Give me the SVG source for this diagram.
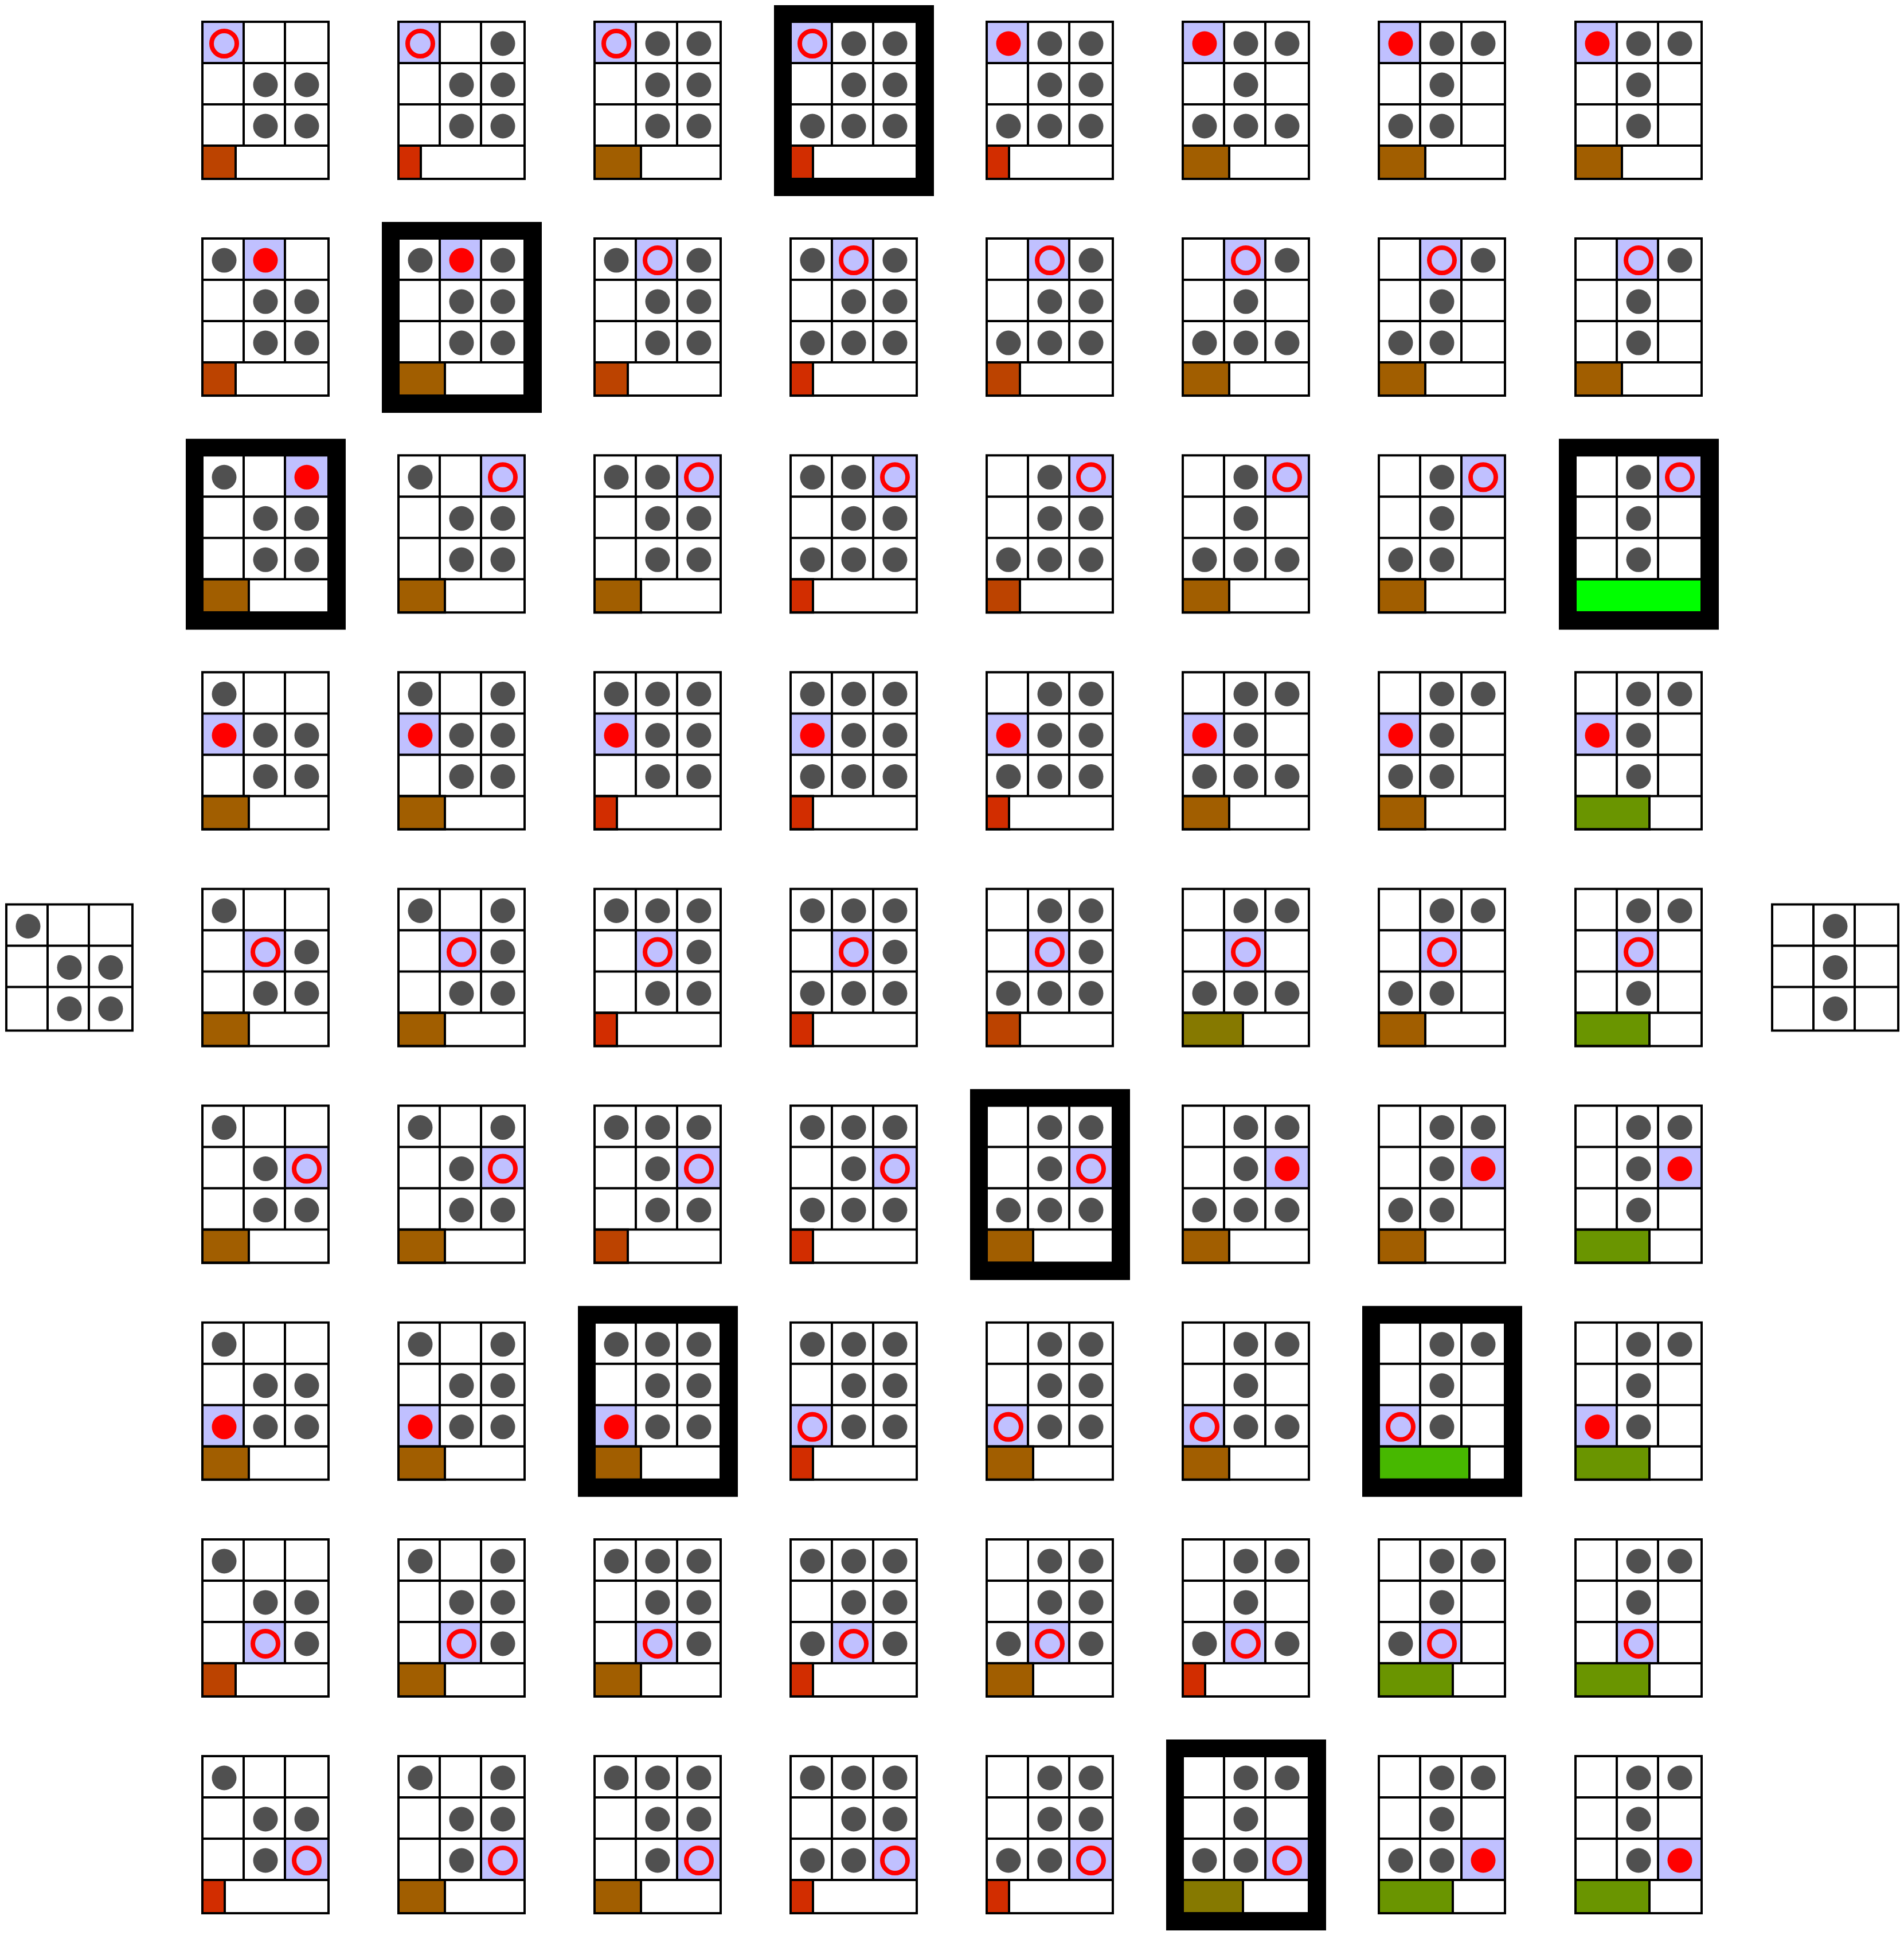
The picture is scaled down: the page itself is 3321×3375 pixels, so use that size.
<svg xmlns="http://www.w3.org/2000/svg" width="3321" height="3375" viewBox="0 0 3321 3375">
<style>
.bg{fill:#fff}
.hl{fill:#c0c0ff}
.ln{fill:none;stroke:#000;stroke-width:4}
.bar{stroke:#000;stroke-width:4}
.p{fill:#505050}
.o{fill:none;stroke:#f00;stroke-width:8}
.f{fill:#f00}
.bd{fill:#000}
.ca{fill:#d22d00}.cb{fill:#bc4300}.cc{fill:#a15e00}.cd{fill:#867900}.ce{fill:#6a9500}.cf{fill:#47b800}.cg{fill:#00ff00}
</style>
<defs>
<rect id="bd" class="bd" x="-29" y="-29" width="279" height="333"/>
<rect id="bg" class="bg" width="220" height="274"/>
<rect id="sbg" class="bg" width="220" height="220"/>
<path id="tf" class="ln" d="M0,0H220V274H0Z M72,0V216 M144,0V216 M0,72H220 M0,144H220 M0,216H220"/>
<path id="sf" class="ln" d="M0,0H220V220H0Z M72,0V220 M144,0V220 M0,72H220 M0,144H220"/>
<rect id="h00" class="hl" x="0" y="0" width="72" height="72"/>
<rect id="h01" class="hl" x="72" y="0" width="72" height="72"/>
<rect id="h02" class="hl" x="144" y="0" width="76" height="72"/>
<rect id="h10" class="hl" x="0" y="72" width="72" height="72"/>
<rect id="h11" class="hl" x="72" y="72" width="72" height="72"/>
<rect id="h12" class="hl" x="144" y="72" width="76" height="72"/>
<rect id="h20" class="hl" x="0" y="144" width="72" height="72"/>
<rect id="h21" class="hl" x="72" y="144" width="72" height="72"/>
<rect id="h22" class="hl" x="144" y="144" width="76" height="72"/>
<rect id="ba" class="bar ca" y="216" width="39" height="58"/>
<rect id="bb" class="bar cb" y="216" width="58" height="58"/>
<rect id="bc" class="bar cc" y="216" width="81" height="58"/>
<rect id="bdd" class="bar cd" y="216" width="105" height="58"/>
<rect id="be" class="bar ce" y="216" width="129" height="58"/>
<rect id="bf" class="bar cf" y="216" width="158" height="58"/>
<rect id="bgg" class="bar cg" y="216" width="220" height="58"/>
<circle id="p00" class="p" cx="38" cy="38" r="21.5"/>
<circle id="p01" class="p" cx="110" cy="38" r="21.5"/>
<circle id="p02" class="p" cx="182" cy="38" r="21.5"/>
<circle id="p10" class="p" cx="38" cy="110" r="21.5"/>
<circle id="p11" class="p" cx="110" cy="110" r="21.5"/>
<circle id="p12" class="p" cx="182" cy="110" r="21.5"/>
<circle id="p20" class="p" cx="38" cy="182" r="21.5"/>
<circle id="p21" class="p" cx="110" cy="182" r="21.5"/>
<circle id="p22" class="p" cx="182" cy="182" r="21.5"/>
<circle id="o00" class="o" cx="38" cy="38" r="22"/>
<circle id="o01" class="o" cx="110" cy="38" r="22"/>
<circle id="o02" class="o" cx="182" cy="38" r="22"/>
<circle id="o11" class="o" cx="110" cy="110" r="22"/>
<circle id="o12" class="o" cx="182" cy="110" r="22"/>
<circle id="o20" class="o" cx="38" cy="182" r="22"/>
<circle id="o21" class="o" cx="110" cy="182" r="22"/>
<circle id="o22" class="o" cx="182" cy="182" r="22"/>
<circle id="f00" class="f" cx="38" cy="38" r="21.5"/>
<circle id="f01" class="f" cx="110" cy="38" r="21.5"/>
<circle id="f02" class="f" cx="182" cy="38" r="21.5"/>
<circle id="f10" class="f" cx="38" cy="110" r="21.5"/>
<circle id="f12" class="f" cx="182" cy="110" r="21.5"/>
<circle id="f20" class="f" cx="38" cy="182" r="21.5"/>
<circle id="f22" class="f" cx="182" cy="182" r="21.5"/>
</defs>
<rect width="3321" height="3375" fill="#fff"/>
<g id="connectors"/>

<g id="start" transform="translate(11,1577.5)"><use href="#sbg"/><use href="#sf"/><use href="#p00"/><use href="#p11"/><use href="#p12"/><use href="#p21"/><use href="#p22"/></g>
<g id="goal" transform="translate(3091,1577.5)"><use href="#sbg"/><use href="#sf"/><use href="#p01"/><use href="#p11"/><use href="#p21"/></g>

<!-- row 0 -->
<g id="t-r0-c0" transform="translate(353,38)"><use href="#bg"/><use href="#h00"/><use href="#bb"/><use href="#tf"/><use href="#p11"/><use href="#p12"/><use href="#p21"/><use href="#p22"/><use href="#o00"/></g>
<g id="t-r0-c1" transform="translate(695,38)"><use href="#bg"/><use href="#h00"/><use href="#ba"/><use href="#tf"/><use href="#p02"/><use href="#p11"/><use href="#p12"/><use href="#p21"/><use href="#p22"/><use href="#o00"/></g>
<g id="t-r0-c2" transform="translate(1037,38)"><use href="#bg"/><use href="#h00"/><use href="#bc"/><use href="#tf"/><use href="#p01"/><use href="#p02"/><use href="#p11"/><use href="#p12"/><use href="#p21"/><use href="#p22"/><use href="#o00"/></g>
<g id="t-r0-c3" transform="translate(1379,38)"><use href="#bd"/><use href="#bg"/><use href="#h00"/><use href="#ba"/><use href="#tf"/><use href="#p01"/><use href="#p02"/><use href="#p11"/><use href="#p12"/><use href="#p20"/><use href="#p21"/><use href="#p22"/><use href="#o00"/></g>
<g id="t-r0-c4" transform="translate(1721,38)"><use href="#bg"/><use href="#h00"/><use href="#ba"/><use href="#tf"/><use href="#p01"/><use href="#p02"/><use href="#p11"/><use href="#p12"/><use href="#p20"/><use href="#p21"/><use href="#p22"/><use href="#f00"/></g>
<g id="t-r0-c5" transform="translate(2063,38)"><use href="#bg"/><use href="#h00"/><use href="#bc"/><use href="#tf"/><use href="#p01"/><use href="#p02"/><use href="#p11"/><use href="#p20"/><use href="#p21"/><use href="#p22"/><use href="#f00"/></g>
<g id="t-r0-c6" transform="translate(2405,38)"><use href="#bg"/><use href="#h00"/><use href="#bc"/><use href="#tf"/><use href="#p01"/><use href="#p02"/><use href="#p11"/><use href="#p20"/><use href="#p21"/><use href="#f00"/></g>
<g id="t-r0-c7" transform="translate(2748,38)"><use href="#bg"/><use href="#h00"/><use href="#bc"/><use href="#tf"/><use href="#p01"/><use href="#p02"/><use href="#p11"/><use href="#p21"/><use href="#f00"/></g>

<!-- row 1 -->
<g id="t-r1-c0" transform="translate(353,416.1)"><use href="#bg"/><use href="#h01"/><use href="#bb"/><use href="#tf"/><use href="#p00"/><use href="#p11"/><use href="#p12"/><use href="#p21"/><use href="#p22"/><use href="#f01"/></g>
<g id="t-r1-c1" transform="translate(695,416.1)"><use href="#bd"/><use href="#bg"/><use href="#h01"/><use href="#bc"/><use href="#tf"/><use href="#p00"/><use href="#p02"/><use href="#p11"/><use href="#p12"/><use href="#p21"/><use href="#p22"/><use href="#f01"/></g>
<g id="t-r1-c2" transform="translate(1037,416.1)"><use href="#bg"/><use href="#h01"/><use href="#bb"/><use href="#tf"/><use href="#p00"/><use href="#p02"/><use href="#p11"/><use href="#p12"/><use href="#p21"/><use href="#p22"/><use href="#o01"/></g>
<g id="t-r1-c3" transform="translate(1379,416.1)"><use href="#bg"/><use href="#h01"/><use href="#ba"/><use href="#tf"/><use href="#p00"/><use href="#p02"/><use href="#p11"/><use href="#p12"/><use href="#p20"/><use href="#p21"/><use href="#p22"/><use href="#o01"/></g>
<g id="t-r1-c4" transform="translate(1721,416.1)"><use href="#bg"/><use href="#h01"/><use href="#bb"/><use href="#tf"/><use href="#p02"/><use href="#p11"/><use href="#p12"/><use href="#p20"/><use href="#p21"/><use href="#p22"/><use href="#o01"/></g>
<g id="t-r1-c5" transform="translate(2063,416.1)"><use href="#bg"/><use href="#h01"/><use href="#bc"/><use href="#tf"/><use href="#p02"/><use href="#p11"/><use href="#p20"/><use href="#p21"/><use href="#p22"/><use href="#o01"/></g>
<g id="t-r1-c6" transform="translate(2405,416.1)"><use href="#bg"/><use href="#h01"/><use href="#bc"/><use href="#tf"/><use href="#p02"/><use href="#p11"/><use href="#p20"/><use href="#p21"/><use href="#o01"/></g>
<g id="t-r1-c7" transform="translate(2748,416.1)"><use href="#bg"/><use href="#h01"/><use href="#bc"/><use href="#tf"/><use href="#p02"/><use href="#p11"/><use href="#p21"/><use href="#o01"/></g>

<!-- row 2 -->
<g id="t-r2-c0" transform="translate(353,794.3)"><use href="#bd"/><use href="#bg"/><use href="#h02"/><use href="#bc"/><use href="#tf"/><use href="#p00"/><use href="#p11"/><use href="#p12"/><use href="#p21"/><use href="#p22"/><use href="#f02"/></g>
<g id="t-r2-c1" transform="translate(695,794.3)"><use href="#bg"/><use href="#h02"/><use href="#bc"/><use href="#tf"/><use href="#p00"/><use href="#p11"/><use href="#p12"/><use href="#p21"/><use href="#p22"/><use href="#o02"/></g>
<g id="t-r2-c2" transform="translate(1037,794.3)"><use href="#bg"/><use href="#h02"/><use href="#bc"/><use href="#tf"/><use href="#p00"/><use href="#p01"/><use href="#p11"/><use href="#p12"/><use href="#p21"/><use href="#p22"/><use href="#o02"/></g>
<g id="t-r2-c3" transform="translate(1379,794.3)"><use href="#bg"/><use href="#h02"/><use href="#ba"/><use href="#tf"/><use href="#p00"/><use href="#p01"/><use href="#p11"/><use href="#p12"/><use href="#p20"/><use href="#p21"/><use href="#p22"/><use href="#o02"/></g>
<g id="t-r2-c4" transform="translate(1721,794.3)"><use href="#bg"/><use href="#h02"/><use href="#bb"/><use href="#tf"/><use href="#p01"/><use href="#p11"/><use href="#p12"/><use href="#p20"/><use href="#p21"/><use href="#p22"/><use href="#o02"/></g>
<g id="t-r2-c5" transform="translate(2063,794.3)"><use href="#bg"/><use href="#h02"/><use href="#bc"/><use href="#tf"/><use href="#p01"/><use href="#p11"/><use href="#p20"/><use href="#p21"/><use href="#p22"/><use href="#o02"/></g>
<g id="t-r2-c6" transform="translate(2405,794.3)"><use href="#bg"/><use href="#h02"/><use href="#bc"/><use href="#tf"/><use href="#p01"/><use href="#p11"/><use href="#p20"/><use href="#p21"/><use href="#o02"/></g>
<g id="t-r2-c7" transform="translate(2748,794.3)"><use href="#bd"/><use href="#bg"/><use href="#h02"/><use href="#bgg"/><use href="#tf"/><use href="#p01"/><use href="#p11"/><use href="#p21"/><use href="#o02"/></g>

<!-- row 3 -->
<g id="t-r3-c0" transform="translate(353,1172.4)"><use href="#bg"/><use href="#h10"/><use href="#bc"/><use href="#tf"/><use href="#p00"/><use href="#p11"/><use href="#p12"/><use href="#p21"/><use href="#p22"/><use href="#f10"/></g>
<g id="t-r3-c1" transform="translate(695,1172.4)"><use href="#bg"/><use href="#h10"/><use href="#bc"/><use href="#tf"/><use href="#p00"/><use href="#p02"/><use href="#p11"/><use href="#p12"/><use href="#p21"/><use href="#p22"/><use href="#f10"/></g>
<g id="t-r3-c2" transform="translate(1037,1172.4)"><use href="#bg"/><use href="#h10"/><use href="#ba"/><use href="#tf"/><use href="#p00"/><use href="#p01"/><use href="#p02"/><use href="#p11"/><use href="#p12"/><use href="#p21"/><use href="#p22"/><use href="#f10"/></g>
<g id="t-r3-c3" transform="translate(1379,1172.4)"><use href="#bg"/><use href="#h10"/><use href="#ba"/><use href="#tf"/><use href="#p00"/><use href="#p01"/><use href="#p02"/><use href="#p11"/><use href="#p12"/><use href="#p20"/><use href="#p21"/><use href="#p22"/><use href="#f10"/></g>
<g id="t-r3-c4" transform="translate(1721,1172.4)"><use href="#bg"/><use href="#h10"/><use href="#ba"/><use href="#tf"/><use href="#p01"/><use href="#p02"/><use href="#p11"/><use href="#p12"/><use href="#p20"/><use href="#p21"/><use href="#p22"/><use href="#f10"/></g>
<g id="t-r3-c5" transform="translate(2063,1172.4)"><use href="#bg"/><use href="#h10"/><use href="#bc"/><use href="#tf"/><use href="#p01"/><use href="#p02"/><use href="#p11"/><use href="#p20"/><use href="#p21"/><use href="#p22"/><use href="#f10"/></g>
<g id="t-r3-c6" transform="translate(2405,1172.4)"><use href="#bg"/><use href="#h10"/><use href="#bc"/><use href="#tf"/><use href="#p01"/><use href="#p02"/><use href="#p11"/><use href="#p20"/><use href="#p21"/><use href="#f10"/></g>
<g id="t-r3-c7" transform="translate(2748,1172.4)"><use href="#bg"/><use href="#h10"/><use href="#be"/><use href="#tf"/><use href="#p01"/><use href="#p02"/><use href="#p11"/><use href="#p21"/><use href="#f10"/></g>

<!-- row 4 -->
<g id="t-r4-c0" transform="translate(353,1550.5)"><use href="#bg"/><use href="#h11"/><use href="#bc"/><use href="#tf"/><use href="#p00"/><use href="#p12"/><use href="#p21"/><use href="#p22"/><use href="#o11"/></g>
<g id="t-r4-c1" transform="translate(695,1550.5)"><use href="#bg"/><use href="#h11"/><use href="#bc"/><use href="#tf"/><use href="#p00"/><use href="#p02"/><use href="#p12"/><use href="#p21"/><use href="#p22"/><use href="#o11"/></g>
<g id="t-r4-c2" transform="translate(1037,1550.5)"><use href="#bg"/><use href="#h11"/><use href="#ba"/><use href="#tf"/><use href="#p00"/><use href="#p01"/><use href="#p02"/><use href="#p12"/><use href="#p21"/><use href="#p22"/><use href="#o11"/></g>
<g id="t-r4-c3" transform="translate(1379,1550.5)"><use href="#bg"/><use href="#h11"/><use href="#ba"/><use href="#tf"/><use href="#p00"/><use href="#p01"/><use href="#p02"/><use href="#p12"/><use href="#p20"/><use href="#p21"/><use href="#p22"/><use href="#o11"/></g>
<g id="t-r4-c4" transform="translate(1721,1550.5)"><use href="#bg"/><use href="#h11"/><use href="#bb"/><use href="#tf"/><use href="#p01"/><use href="#p02"/><use href="#p12"/><use href="#p20"/><use href="#p21"/><use href="#p22"/><use href="#o11"/></g>
<g id="t-r4-c5" transform="translate(2063,1550.5)"><use href="#bg"/><use href="#h11"/><use href="#bdd"/><use href="#tf"/><use href="#p01"/><use href="#p02"/><use href="#p20"/><use href="#p21"/><use href="#p22"/><use href="#o11"/></g>
<g id="t-r4-c6" transform="translate(2405,1550.5)"><use href="#bg"/><use href="#h11"/><use href="#bc"/><use href="#tf"/><use href="#p01"/><use href="#p02"/><use href="#p20"/><use href="#p21"/><use href="#o11"/></g>
<g id="t-r4-c7" transform="translate(2748,1550.5)"><use href="#bg"/><use href="#h11"/><use href="#be"/><use href="#tf"/><use href="#p01"/><use href="#p02"/><use href="#p21"/><use href="#o11"/></g>

<!-- row 5 -->
<g id="t-r5-c0" transform="translate(353,1928.6)"><use href="#bg"/><use href="#h12"/><use href="#bc"/><use href="#tf"/><use href="#p00"/><use href="#p11"/><use href="#p21"/><use href="#p22"/><use href="#o12"/></g>
<g id="t-r5-c1" transform="translate(695,1928.6)"><use href="#bg"/><use href="#h12"/><use href="#bc"/><use href="#tf"/><use href="#p00"/><use href="#p02"/><use href="#p11"/><use href="#p21"/><use href="#p22"/><use href="#o12"/></g>
<g id="t-r5-c2" transform="translate(1037,1928.6)"><use href="#bg"/><use href="#h12"/><use href="#bb"/><use href="#tf"/><use href="#p00"/><use href="#p01"/><use href="#p02"/><use href="#p11"/><use href="#p21"/><use href="#p22"/><use href="#o12"/></g>
<g id="t-r5-c3" transform="translate(1379,1928.6)"><use href="#bg"/><use href="#h12"/><use href="#ba"/><use href="#tf"/><use href="#p00"/><use href="#p01"/><use href="#p02"/><use href="#p11"/><use href="#p20"/><use href="#p21"/><use href="#p22"/><use href="#o12"/></g>
<g id="t-r5-c4" transform="translate(1721,1928.6)"><use href="#bd"/><use href="#bg"/><use href="#h12"/><use href="#bc"/><use href="#tf"/><use href="#p01"/><use href="#p02"/><use href="#p11"/><use href="#p20"/><use href="#p21"/><use href="#p22"/><use href="#o12"/></g>
<g id="t-r5-c5" transform="translate(2063,1928.6)"><use href="#bg"/><use href="#h12"/><use href="#bc"/><use href="#tf"/><use href="#p01"/><use href="#p02"/><use href="#p11"/><use href="#p20"/><use href="#p21"/><use href="#p22"/><use href="#f12"/></g>
<g id="t-r5-c6" transform="translate(2405,1928.6)"><use href="#bg"/><use href="#h12"/><use href="#bc"/><use href="#tf"/><use href="#p01"/><use href="#p02"/><use href="#p11"/><use href="#p20"/><use href="#p21"/><use href="#f12"/></g>
<g id="t-r5-c7" transform="translate(2748,1928.6)"><use href="#bg"/><use href="#h12"/><use href="#be"/><use href="#tf"/><use href="#p01"/><use href="#p02"/><use href="#p11"/><use href="#p21"/><use href="#f12"/></g>

<!-- row 6 -->
<g id="t-r6-c0" transform="translate(353,2306.8)"><use href="#bg"/><use href="#h20"/><use href="#bc"/><use href="#tf"/><use href="#p00"/><use href="#p11"/><use href="#p12"/><use href="#p21"/><use href="#p22"/><use href="#f20"/></g>
<g id="t-r6-c1" transform="translate(695,2306.8)"><use href="#bg"/><use href="#h20"/><use href="#bc"/><use href="#tf"/><use href="#p00"/><use href="#p02"/><use href="#p11"/><use href="#p12"/><use href="#p21"/><use href="#p22"/><use href="#f20"/></g>
<g id="t-r6-c2" transform="translate(1037,2306.8)"><use href="#bd"/><use href="#bg"/><use href="#h20"/><use href="#bc"/><use href="#tf"/><use href="#p00"/><use href="#p01"/><use href="#p02"/><use href="#p11"/><use href="#p12"/><use href="#p21"/><use href="#p22"/><use href="#f20"/></g>
<g id="t-r6-c3" transform="translate(1379,2306.8)"><use href="#bg"/><use href="#h20"/><use href="#ba"/><use href="#tf"/><use href="#p00"/><use href="#p01"/><use href="#p02"/><use href="#p11"/><use href="#p12"/><use href="#p21"/><use href="#p22"/><use href="#o20"/></g>
<g id="t-r6-c4" transform="translate(1721,2306.8)"><use href="#bg"/><use href="#h20"/><use href="#bc"/><use href="#tf"/><use href="#p01"/><use href="#p02"/><use href="#p11"/><use href="#p12"/><use href="#p21"/><use href="#p22"/><use href="#o20"/></g>
<g id="t-r6-c5" transform="translate(2063,2306.8)"><use href="#bg"/><use href="#h20"/><use href="#bc"/><use href="#tf"/><use href="#p01"/><use href="#p02"/><use href="#p11"/><use href="#p21"/><use href="#p22"/><use href="#o20"/></g>
<g id="t-r6-c6" transform="translate(2405,2306.8)"><use href="#bd"/><use href="#bg"/><use href="#h20"/><use href="#bf"/><use href="#tf"/><use href="#p01"/><use href="#p02"/><use href="#p11"/><use href="#p21"/><use href="#o20"/></g>
<g id="t-r6-c7" transform="translate(2748,2306.8)"><use href="#bg"/><use href="#h20"/><use href="#be"/><use href="#tf"/><use href="#p01"/><use href="#p02"/><use href="#p11"/><use href="#p21"/><use href="#f20"/></g>

<!-- row 7 -->
<g id="t-r7-c0" transform="translate(353,2684.9)"><use href="#bg"/><use href="#h21"/><use href="#bb"/><use href="#tf"/><use href="#p00"/><use href="#p11"/><use href="#p12"/><use href="#p22"/><use href="#o21"/></g>
<g id="t-r7-c1" transform="translate(695,2684.9)"><use href="#bg"/><use href="#h21"/><use href="#bc"/><use href="#tf"/><use href="#p00"/><use href="#p02"/><use href="#p11"/><use href="#p12"/><use href="#p22"/><use href="#o21"/></g>
<g id="t-r7-c2" transform="translate(1037,2684.9)"><use href="#bg"/><use href="#h21"/><use href="#bc"/><use href="#tf"/><use href="#p00"/><use href="#p01"/><use href="#p02"/><use href="#p11"/><use href="#p12"/><use href="#p22"/><use href="#o21"/></g>
<g id="t-r7-c3" transform="translate(1379,2684.9)"><use href="#bg"/><use href="#h21"/><use href="#ba"/><use href="#tf"/><use href="#p00"/><use href="#p01"/><use href="#p02"/><use href="#p11"/><use href="#p12"/><use href="#p20"/><use href="#p22"/><use href="#o21"/></g>
<g id="t-r7-c4" transform="translate(1721,2684.9)"><use href="#bg"/><use href="#h21"/><use href="#bc"/><use href="#tf"/><use href="#p01"/><use href="#p02"/><use href="#p11"/><use href="#p12"/><use href="#p20"/><use href="#p22"/><use href="#o21"/></g>
<g id="t-r7-c5" transform="translate(2063,2684.9)"><use href="#bg"/><use href="#h21"/><use href="#ba"/><use href="#tf"/><use href="#p01"/><use href="#p02"/><use href="#p11"/><use href="#p20"/><use href="#p22"/><use href="#o21"/></g>
<g id="t-r7-c6" transform="translate(2405,2684.9)"><use href="#bg"/><use href="#h21"/><use href="#be"/><use href="#tf"/><use href="#p01"/><use href="#p02"/><use href="#p11"/><use href="#p20"/><use href="#o21"/></g>
<g id="t-r7-c7" transform="translate(2748,2684.9)"><use href="#bg"/><use href="#h21"/><use href="#be"/><use href="#tf"/><use href="#p01"/><use href="#p02"/><use href="#p11"/><use href="#o21"/></g>

<!-- row 8 -->
<g id="t-r8-c0" transform="translate(353,3063)"><use href="#bg"/><use href="#h22"/><use href="#ba"/><use href="#tf"/><use href="#p00"/><use href="#p11"/><use href="#p12"/><use href="#p21"/><use href="#o22"/></g>
<g id="t-r8-c1" transform="translate(695,3063)"><use href="#bg"/><use href="#h22"/><use href="#bc"/><use href="#tf"/><use href="#p00"/><use href="#p02"/><use href="#p11"/><use href="#p12"/><use href="#p21"/><use href="#o22"/></g>
<g id="t-r8-c2" transform="translate(1037,3063)"><use href="#bg"/><use href="#h22"/><use href="#bc"/><use href="#tf"/><use href="#p00"/><use href="#p01"/><use href="#p02"/><use href="#p11"/><use href="#p12"/><use href="#p21"/><use href="#o22"/></g>
<g id="t-r8-c3" transform="translate(1379,3063)"><use href="#bg"/><use href="#h22"/><use href="#ba"/><use href="#tf"/><use href="#p00"/><use href="#p01"/><use href="#p02"/><use href="#p11"/><use href="#p12"/><use href="#p20"/><use href="#p21"/><use href="#o22"/></g>
<g id="t-r8-c4" transform="translate(1721,3063)"><use href="#bg"/><use href="#h22"/><use href="#ba"/><use href="#tf"/><use href="#p01"/><use href="#p02"/><use href="#p11"/><use href="#p12"/><use href="#p20"/><use href="#p21"/><use href="#o22"/></g>
<g id="t-r8-c5" transform="translate(2063,3063)"><use href="#bd"/><use href="#bg"/><use href="#h22"/><use href="#bdd"/><use href="#tf"/><use href="#p01"/><use href="#p02"/><use href="#p11"/><use href="#p20"/><use href="#p21"/><use href="#o22"/></g>
<g id="t-r8-c6" transform="translate(2405,3063)"><use href="#bg"/><use href="#h22"/><use href="#be"/><use href="#tf"/><use href="#p01"/><use href="#p02"/><use href="#p11"/><use href="#p20"/><use href="#p21"/><use href="#f22"/></g>
<g id="t-r8-c7" transform="translate(2748,3063)"><use href="#bg"/><use href="#h22"/><use href="#be"/><use href="#tf"/><use href="#p01"/><use href="#p02"/><use href="#p11"/><use href="#p21"/><use href="#f22"/></g>
</svg>
